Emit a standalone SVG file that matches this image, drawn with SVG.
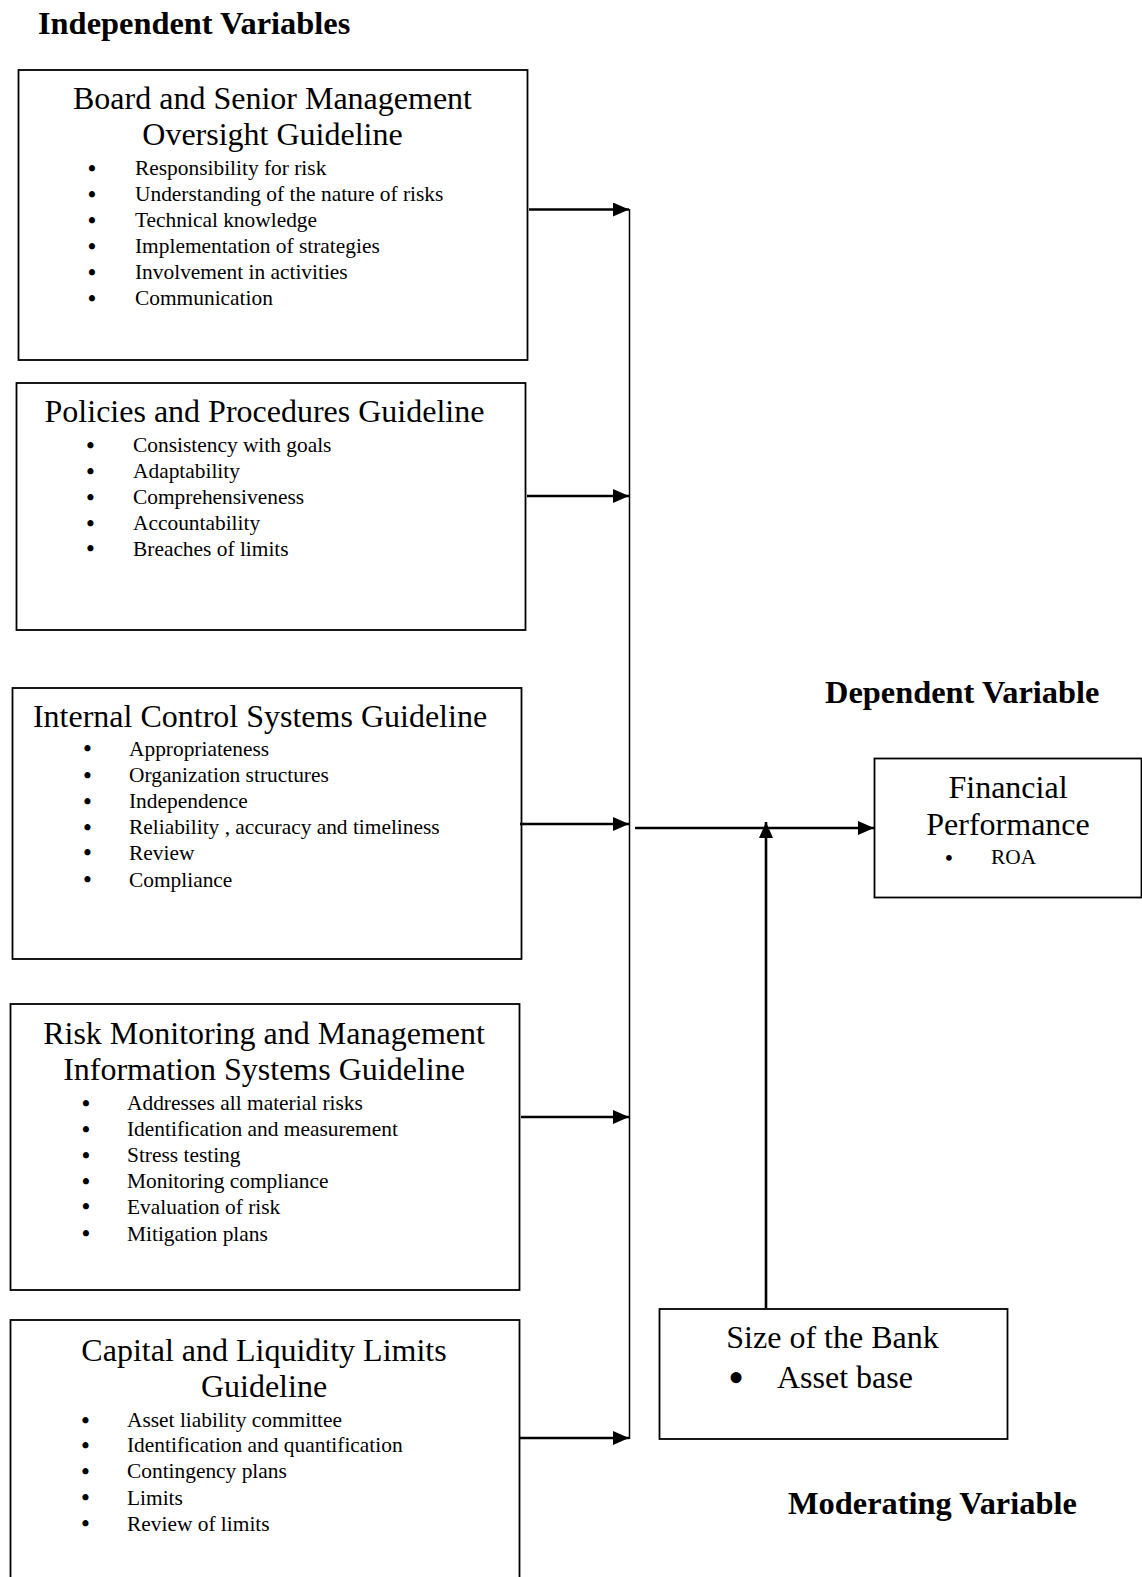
<svg xmlns="http://www.w3.org/2000/svg" width="1142" height="1577" viewBox="0 0 1142 1577">
<style>
.box{fill:#fff;stroke:#000;stroke-width:1.8}
.h{font-family:"Liberation Serif","Times New Roman",serif;font-size:32px;fill:#000;text-anchor:middle}
.b{font-family:"Liberation Serif","Times New Roman",serif;font-size:32.4px;font-weight:bold;fill:#000}
.t{font-family:"Liberation Serif","Times New Roman",serif;font-size:21.4px;fill:#000}
.d{font-family:"Liberation Serif","Times New Roman",serif;font-size:22.5px;font-weight:bold;fill:#000;text-anchor:middle}
.c{stroke:#000;stroke-width:2.6;fill:none}
</style>
<defs>
<marker id="ah" markerUnits="userSpaceOnUse" markerWidth="17" markerHeight="15" refX="16" refY="7" orient="auto">
<path d="M0,0 L16,7 L0,14 z" fill="#000"/>
</marker>
</defs>
<rect width="1142" height="1577" fill="#fff"/>

<text class="b" x="38" y="34">Independent Variables</text>
<text class="b" x="825" y="703">Dependent Variable</text>
<text class="b" x="788" y="1514">Moderating Variable</text>

<g id="board">
<rect class="box" x="18.5" y="70" width="509" height="290"/>
<text class="h" x="272.5" y="109">Board and Senior Management</text>
<text class="h" x="272.5" y="145">Oversight Guideline</text>
<g class="d"><text x="92" y="175.5">•</text><text x="92" y="201.5">•</text><text x="92" y="227.5">•</text><text x="92" y="253.5">•</text><text x="92" y="279.5">•</text><text x="92" y="305.5">•</text></g>
<text class="t" x="135" y="175">Responsibility for risk</text>
<text class="t" x="135" y="201">Understanding of the nature of risks</text>
<text class="t" x="135" y="227">Technical knowledge</text>
<text class="t" x="135" y="253">Implementation of strategies</text>
<text class="t" x="135" y="279">Involvement in activities</text>
<text class="t" x="135" y="305">Communication</text>
</g>

<g id="policies">
<rect class="box" x="16.5" y="383" width="509" height="247"/>
<text class="h" x="264.5" y="422">Policies and Procedures Guideline</text>
<g class="d"><text x="90.5" y="452.5">•</text><text x="90.5" y="478.5">•</text><text x="90.5" y="504.5">•</text><text x="90.5" y="530.5">•</text><text x="90.5" y="556">•</text></g>
<text class="t" x="133" y="452">Consistency with goals</text>
<text class="t" x="133" y="478">Adaptability</text>
<text class="t" x="133" y="504">Comprehensiveness</text>
<text class="t" x="133" y="530">Accountability</text>
<text class="t" x="133" y="555.5">Breaches of limits</text>
</g>

<g id="internal">
<rect class="box" x="12.5" y="688" width="509" height="271"/>
<text class="h" x="260" y="726.5">Internal Control Systems Guideline</text>
<g class="d"><text x="87.5" y="756">•</text><text x="87.5" y="782.5">•</text><text x="87.5" y="808.5">•</text><text x="87.5" y="834.5">•</text><text x="87.5" y="860">•</text><text x="87.5" y="887">•</text></g>
<text class="t" x="129" y="755.5">Appropriateness</text>
<text class="t" x="129" y="782">Organization structures</text>
<text class="t" x="129" y="808">Independence</text>
<text class="t" x="129" y="834">Reliability , accuracy and timeliness</text>
<text class="t" x="129" y="859.5">Review</text>
<text class="t" x="129" y="886.5">Compliance</text>
</g>

<g id="risk">
<rect class="box" x="10.5" y="1004" width="509" height="286"/>
<text class="h" x="264" y="1043.5">Risk Monitoring and Management</text>
<text class="h" x="264" y="1079.5">Information Systems Guideline</text>
<g class="d"><text x="86" y="1110.5">•</text><text x="86" y="1136.5">•</text><text x="86" y="1162.5">•</text><text x="86" y="1188.5">•</text><text x="86" y="1214">•</text><text x="86" y="1241">•</text></g>
<text class="t" x="127" y="1110">Addresses all material risks</text>
<text class="t" x="127" y="1136">Identification and measurement</text>
<text class="t" x="127" y="1162">Stress testing</text>
<text class="t" x="127" y="1188">Monitoring compliance</text>
<text class="t" x="127" y="1213.5">Evaluation of risk</text>
<text class="t" x="127" y="1240.5">Mitigation plans</text>
</g>

<g id="capital">
<rect class="box" x="10.5" y="1320" width="509" height="280"/>
<text class="h" x="264" y="1360.5">Capital and Liquidity Limits</text>
<text class="h" x="264" y="1396.5">Guideline</text>
<g class="d"><text x="85.5" y="1427.5">•</text><text x="85.5" y="1452.5">•</text><text x="85.5" y="1478.5">•</text><text x="85.5" y="1505">•</text><text x="85.5" y="1531">•</text></g>
<text class="t" x="127" y="1427">Asset liability committee</text>
<text class="t" x="127" y="1452">Identification and quantification</text>
<text class="t" x="127" y="1478">Contingency plans</text>
<text class="t" x="127" y="1504.5">Limits</text>
<text class="t" x="127" y="1530.5">Review of limits</text>
</g>

<g id="financial">
<rect class="box" x="874.5" y="758.5" width="267" height="139"/>
<text class="h" x="1008" y="798">Financial</text>
<text class="h" x="1008" y="835">Performance</text>
<text class="d" style="font-size:21px" x="949" y="864.5">•</text>
<text class="t" x="991" y="864">ROA</text>
</g>

<g id="size">
<rect class="box" x="659.5" y="1309" width="348" height="130"/>
<text class="h" x="832.5" y="1348">Size of the Bank</text>
<text class="h" style="font-size:46px" x="736" y="1393">•</text>
<text class="h" style="text-anchor:start" x="777" y="1387.5">Asset base</text>
</g>

<g id="connectors">
<line x1="629.5" y1="209" x2="629.5" y2="1439" stroke="#000" stroke-width="1.5"/>
<line class="c" x1="529" y1="209.5" x2="629" y2="209.5" marker-end="url(#ah)"/>
<line class="c" x1="527" y1="496" x2="629" y2="496" marker-end="url(#ah)"/>
<line class="c" x1="520" y1="824" x2="629" y2="824" marker-end="url(#ah)"/>
<line class="c" x1="521" y1="1117" x2="629" y2="1117" marker-end="url(#ah)"/>
<line class="c" x1="520" y1="1438" x2="629" y2="1438" marker-end="url(#ah)"/>
<line class="c" x1="635" y1="828" x2="874" y2="828" marker-end="url(#ah)"/>
<line class="c" x1="766" y1="1308" x2="766" y2="822" marker-end="url(#ah)"/>
</g>
</svg>
